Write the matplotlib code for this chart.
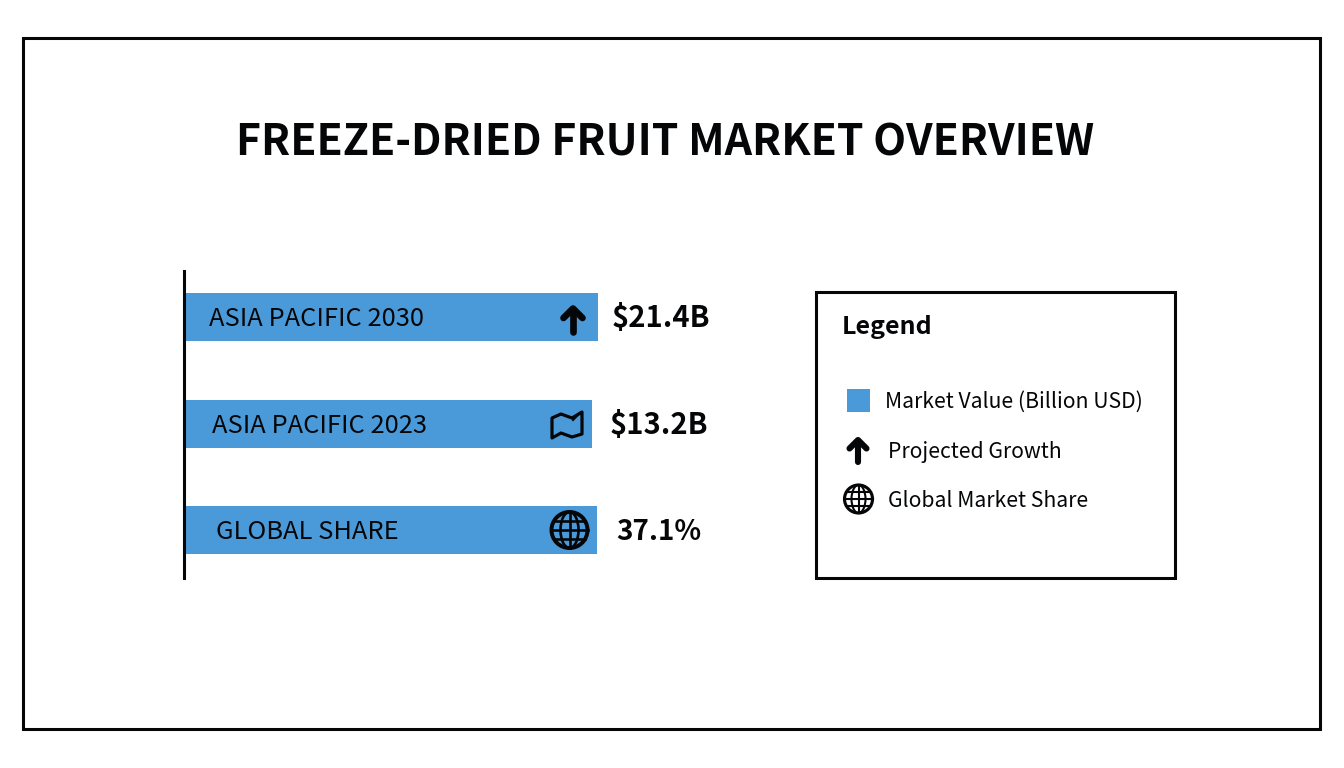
import numpy as np
import matplotlib.pyplot as plt
from matplotlib.patches import Rectangle, Circle, Ellipse, PathPatch
from matplotlib.path import Path

plt.rcParams['font.family'] = ['Noto Sans CJK JP', 'DejaVu Sans']

TITLE = 'FREEZE-DRIED FRUIT MARKET OVERVIEW'
categories = ['ASIA PACIFIC 2030', 'ASIA PACIFIC 2023', 'GLOBAL SHARE']
value_labels = ['$21.4B', '$13.2B', '37.1%']
bar_lengths = [413, 407, 412]
legend_labels = ['Market Value (Billion USD)', 'Projected Growth', 'Global Market Share']

BLUE = '#4a9ad9'
INK = '#050608'
LW = 2.2


def draw_arrow(ax, cx, cy, h, w, lw):
    # rounded up arrow, heavy chevron head on a short shaft
    top = cy - h / 2 + 2
    ax.plot([cx, cx], [cy + h / 2 - 2, top + 3], color=INK, lw=lw, solid_capstyle='round', zorder=5)
    ax.plot([cx - w / 2, cx, cx + w / 2], [top + w * 0.5, top, top + w * 0.5], color=INK, lw=lw,
            solid_capstyle='round', solid_joinstyle='round', zorder=5)
    ax.fill([cx - w / 4, cx, cx + w / 4], [top + w * 0.3, top, top + w * 0.3], color=INK, zorder=5)


def draw_globe(ax, cx, cy, r, lw):
    ax.add_patch(Circle((cx, cy), r, fc='none', ec=INK, lw=lw * 1.5, zorder=5))
    ax.add_patch(Ellipse((cx, cy), r, 2 * r, fc='none', ec=INK, lw=lw, zorder=5))
    ax.plot([cx, cx], [cy - r, cy + r], color=INK, lw=lw, zorder=5)
    for k in (-0.5, 0, 0.5):
        half = r * np.sqrt(1 - k ** 2)
        ax.plot([cx - half, cx + half], [cy + k * r, cy + k * r], color=INK, lw=lw, zorder=5)


def draw_map(ax, cx, cy):
    # folded map outline with a small corner arrow
    offsets = [(-15, -7), (-6, -11), (5, -7), (15, -13), (15, 9), (5, 12), (-6, 8), (-15, 13), (-15, -7)]
    verts = [(cx + dx, cy + dy) for dx, dy in offsets]
    codes = [Path.MOVETO] + [Path.LINETO] * (len(verts) - 2) + [Path.CLOSEPOLY]
    ax.add_patch(PathPatch(Path(verts, codes), fc='none', ec=INK, lw=2.3, joinstyle='round', zorder=5))
    ax.plot([cx + 6, cx + 13], [cy - 5, cy - 12], color=INK, lw=1.5, zorder=5)


def generate_chart():
    fig = plt.figure(figsize=(13.44, 7.68), dpi=100, facecolor='white')
    ax = fig.add_axes([0, 0, 1, 1])
    ax.set_xlim(0, 1344)
    ax.set_ylim(768, 0)
    ax.axis('off')

    # Outer frame and title
    ax.add_patch(Rectangle((22.5, 38), 1297.5, 691, fc='none', ec=INK, lw=LW))
    ax.text(665, 156, TITLE, ha='center', va='baseline', fontsize=30.8, fontweight='bold', color=INK)

    # Bars
    bar_y = [317, 424, 530]
    ax.barh(bar_y, bar_lengths, left=185, height=48, color=BLUE, zorder=2)
    ax.plot([184, 184], [271, 578], color=INK, lw=LW, zorder=3)

    label_x = [209, 212, 216]
    value_x = [661, 658.5, 659]
    value_size = [21, 21, 20]
    for i, name in enumerate(categories):
        ax.text(label_x[i], bar_y[i] + 9, name, ha='left', va='baseline', fontsize=18.3, color=INK, zorder=4)
        ax.text(value_x[i], bar_y[i] + 10, value_labels[i], ha='center', va='baseline', fontsize=value_size[i],
                fontweight='bold', color=INK)

    draw_arrow(ax, 573, 320, 27, 19, 4.8)
    draw_map(ax, 567, 425)
    draw_globe(ax, 569.5, 530, 18, 1.9)

    # Legend box
    ax.add_patch(Rectangle((816, 292), 358.5, 286, fc='white', ec=INK, lw=LW))
    ax.text(842, 334, 'Legend', ha='left', va='baseline', fontsize=18, fontweight='bold', color=INK)
    ax.add_patch(Rectangle((847, 389), 23, 23, fc=BLUE, ec='none'))
    draw_arrow(ax, 858, 451, 26, 17, 4.4)
    draw_globe(ax, 858.5, 499, 14, 1.5)

    legend_x = [885, 888, 888]
    legend_y = [408, 458, 507]
    for x, y, name in zip(legend_x, legend_y, legend_labels):
        ax.text(x, y, name, ha='left', va='baseline', fontsize=15.2, color=INK)

    fig.savefig('out.png', dpi=100)


if __name__ == '__main__':
    generate_chart()
